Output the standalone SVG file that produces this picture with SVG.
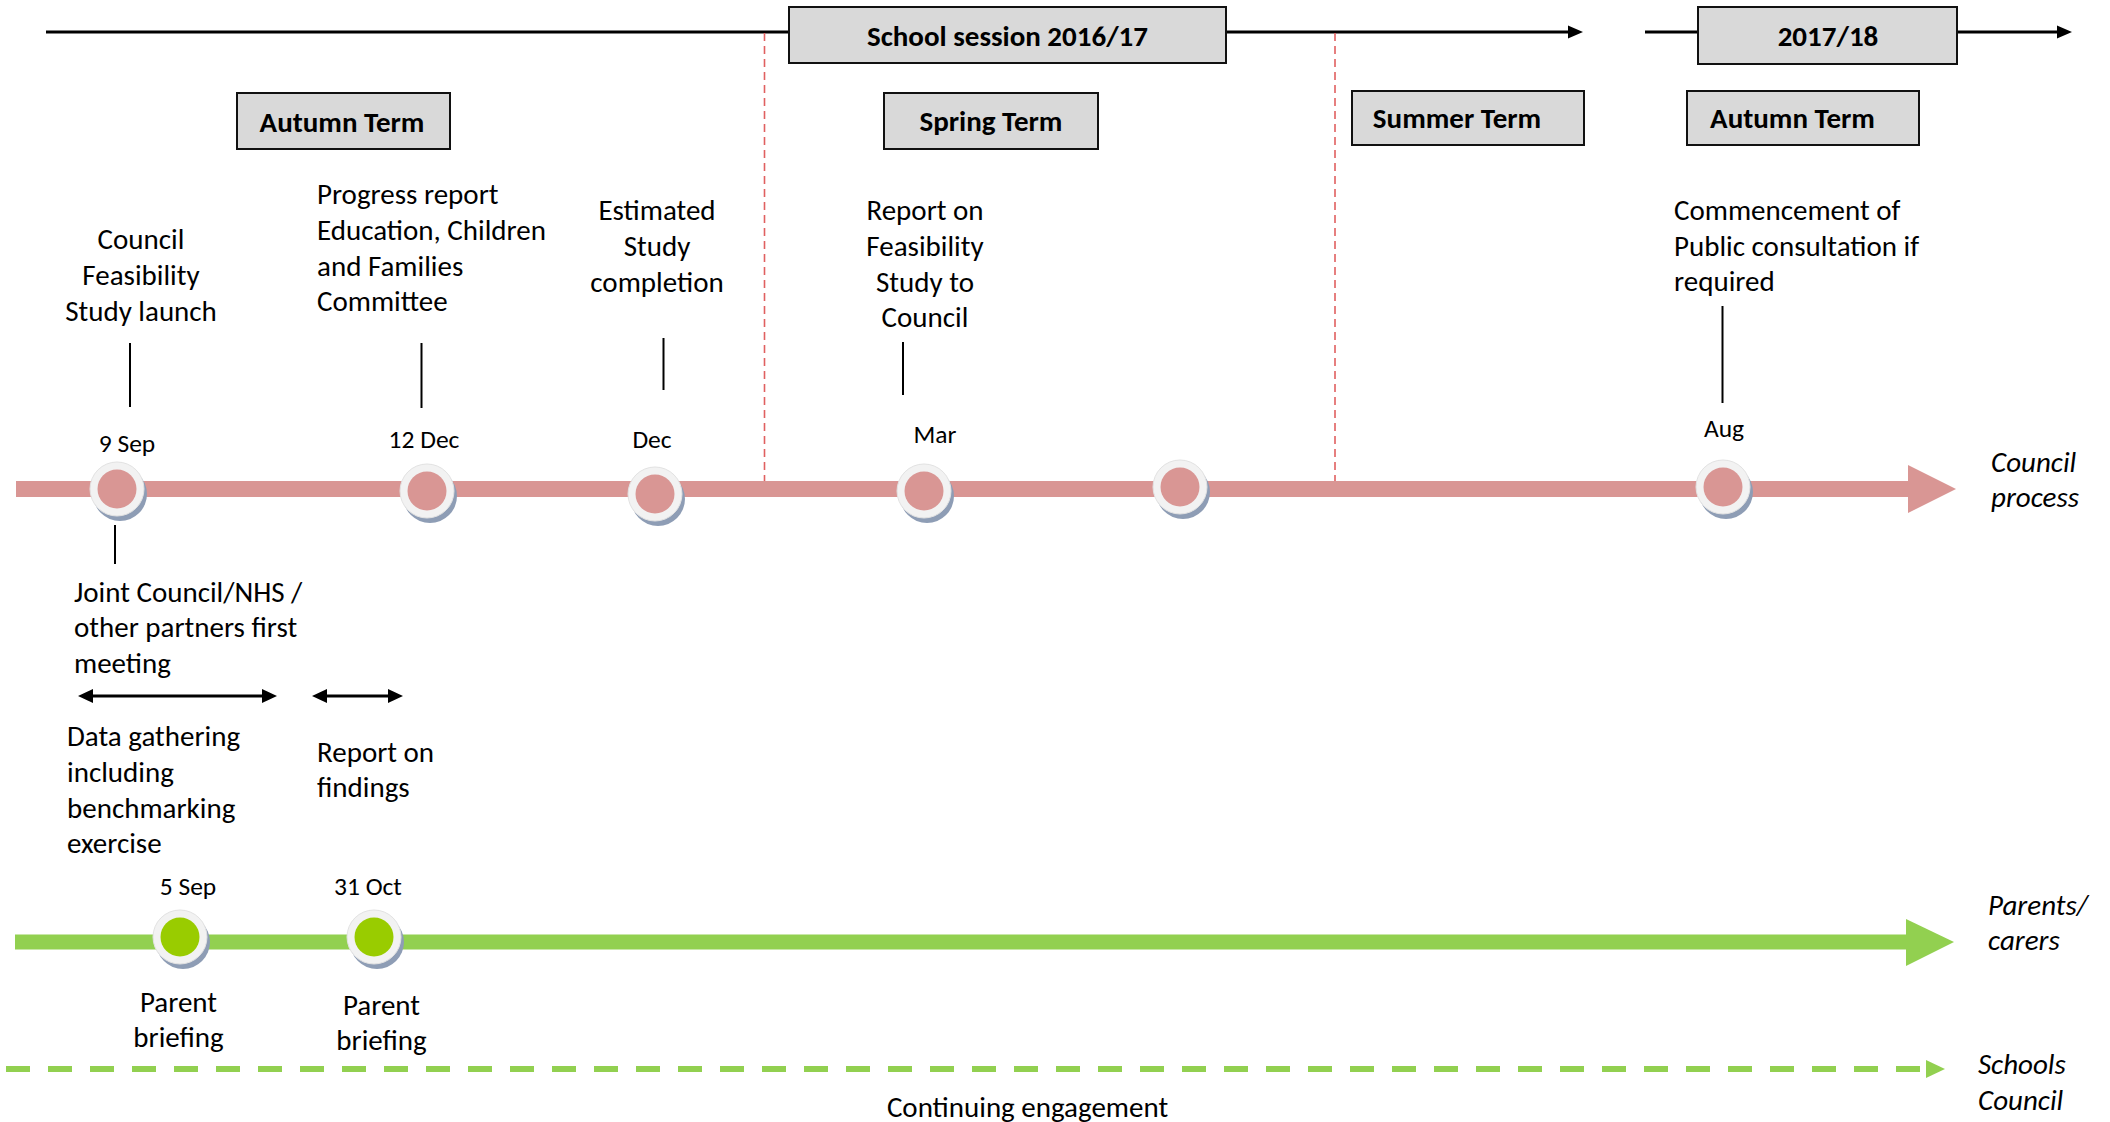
<svg xmlns="http://www.w3.org/2000/svg" width="2110" height="1122" viewBox="0 0 2110 1122">
<defs>
<style>
text{font-family:Carlito,Lato,"Open Sans",sans-serif;fill:#000}
.t{font-size:29px}
.c{text-anchor:middle}
.d{font-size:25.5px;text-anchor:middle}
.b{font-size:29px;font-weight:bold;text-anchor:middle}
.i{font-size:29px;font-style:italic}
.box{fill:#d9d9d9;stroke:#111;stroke-width:2}
.blk{stroke:#000;stroke-width:3;fill:none}
.tick{stroke:#000;stroke-width:2}
.rdash{stroke:#e06060;stroke-width:1.6;stroke-dasharray:8 5}
.shadow{fill:#8e9db5}
.ring{fill:#f2f2f2;stroke:#e2e2e2;stroke-width:1}
.pink{fill:#d99694}
.lime{fill:#99cc00}
</style>
<g id="redDot"><circle class="shadow" cx="3" cy="5" r="27"/><circle class="ring" cx="0" cy="0" r="27"/><circle class="pink" cx="0" cy="0" r="19.5"/></g>
<g id="greenDot"><circle class="shadow" cx="3" cy="5" r="27"/><circle class="ring" cx="0" cy="0" r="27"/><circle class="lime" cx="0" cy="0" r="19.5"/></g>
</defs>
<rect width="2110" height="1122" fill="#fff"/>

<g id="connectors">
<!-- top timeline -->
<line class="blk" x1="46" y1="32" x2="789" y2="32"/>
<line class="blk" x1="1226" y1="32" x2="1570" y2="32"/>
<polygon points="1568,25.5 1583,32 1568,38.5" fill="#000"/>
<line class="blk" x1="1645" y1="32" x2="1698" y2="32"/>
<line class="blk" x1="1957" y1="32" x2="2059" y2="32"/>
<polygon points="2057,25.5 2072,32 2057,38.5" fill="#000"/>
<!-- term dividers -->
<line class="rdash" x1="764.5" y1="33" x2="764.5" y2="488"/>
<line class="rdash" x1="1335" y1="33" x2="1335" y2="488"/>
<!-- council process -->
<rect x="16" y="481" width="1893" height="16" fill="#d99694"/>
<polygon points="1908,465 1956,489 1908,513" fill="#d99694"/>
<!-- parents/carers -->
<rect x="15" y="934.5" width="1892" height="15" fill="#92d050"/>
<polygon points="1906,919 1954,942 1906,966" fill="#92d050"/>
<!-- schools council -->
<line x1="6" y1="1069" x2="1922" y2="1069" stroke="#92d050" stroke-width="6" stroke-dasharray="24 18"/>
<polygon points="1926,1060 1945,1069 1926,1078" fill="#92d050"/>
<!-- tick lines -->
<line class="tick" x1="130" y1="343" x2="130" y2="407"/>
<line class="tick" x1="421.5" y1="343" x2="421.5" y2="408"/>
<line class="tick" x1="663.5" y1="338" x2="663.5" y2="390"/>
<line class="tick" x1="903" y1="342" x2="903" y2="395"/>
<line class="tick" x1="1722.5" y1="306" x2="1722.5" y2="403"/>
<line class="tick" x1="115" y1="525" x2="115" y2="564"/>
<!-- duration arrows -->
<line class="blk" x1="90" y1="696" x2="265" y2="696"/>
<polygon points="78,696 93,689 93,703" fill="#000"/>
<polygon points="277,696 262,689 262,703" fill="#000"/>
<line class="blk" x1="324" y1="696" x2="391" y2="696"/>
<polygon points="312,696 327,689 327,703" fill="#000"/>
<polygon points="403,696 388,689 388,703" fill="#000"/>
</g>

<g id="header-session"><rect class="box" x="789" y="7" width="437" height="56"/><text class="b" x="1007.5" y="46">School session 2016/17</text></g>
<g id="header-2017"><rect class="box" x="1698" y="7" width="259" height="57"/><text class="b" x="1828" y="46">2017/18</text></g>
<g id="term-autumn1"><rect class="box" x="237" y="93" width="213" height="56"/><text class="b" x="342" y="132">Autumn Term</text></g>
<g id="term-spring"><rect class="box" x="884" y="93" width="214" height="56"/><text class="b" x="991" y="131">Spring Term</text></g>
<g id="term-summer"><rect class="box" x="1352" y="91" width="232" height="54"/><text class="b" x="1457" y="128">Summer Term</text></g>
<g id="term-autumn2"><rect class="box" x="1687" y="91" width="232" height="54"/><text class="b" x="1792.5" y="128">Autumn Term</text></g>

<g id="ev-9sep">
<use href="#redDot" x="117" y="489"/>
<text class="d" x="127" y="452">9 Sep</text>
<text class="t c" x="141"><tspan x="141" y="249">Council</tspan><tspan x="141" y="285">Feasibility</tspan><tspan x="141" y="321">Study launch</tspan></text>
<text class="t" x="74"><tspan x="74" y="602">Joint Council/NHS /</tspan><tspan x="74" y="637">other partners first</tspan><tspan x="74" y="673">meeting</tspan></text>
</g>
<g id="ev-12dec">
<use href="#redDot" x="427" y="491"/>
<text class="d" x="424" y="448">12 Dec</text>
<text class="t" x="317"><tspan x="317" y="204">Progress report</tspan><tspan x="317" y="240">Education, Children</tspan><tspan x="317" y="276">and Families</tspan><tspan x="317" y="311">Committee</tspan></text>
</g>
<g id="ev-dec">
<use href="#redDot" x="655" y="494"/>
<text class="d" x="652" y="448">Dec</text>
<text class="t c" x="657"><tspan x="657" y="220">Estimated</tspan><tspan x="657" y="256">Study</tspan><tspan x="657" y="292">completion</tspan></text>
</g>
<g id="ev-mar">
<use href="#redDot" x="924" y="491"/>
<text class="d" x="935" y="443">Mar</text>
<text class="t c" x="925"><tspan x="925" y="220">Report on</tspan><tspan x="925" y="256">Feasibility</tspan><tspan x="925" y="292">Study to</tspan><tspan x="925" y="327">Council</tspan></text>
</g>
<g id="ev-5">
<use href="#redDot" x="1180" y="487"/>
</g>
<g id="ev-aug">
<use href="#redDot" x="1723" y="487"/>
<text class="d" x="1724" y="437">Aug</text>
<text class="t" x="1674"><tspan x="1674" y="220">Commencement of</tspan><tspan x="1674" y="256">Public consultation if</tspan><tspan x="1674" y="291">required</tspan></text>
</g>
<g id="span-data">
<text class="t" x="67"><tspan x="67" y="746">Data gathering</tspan><tspan x="67" y="782">including</tspan><tspan x="67" y="818">benchmarking</tspan><tspan x="67" y="853">exercise</tspan></text>
</g>
<g id="span-report">
<text class="t" x="317"><tspan x="317" y="762">Report on</tspan><tspan x="317" y="797">findings</tspan></text>
</g>
<g id="ev-5sep">
<use href="#greenDot" x="180" y="937"/>
<text class="d" x="188" y="895">5 Sep</text>
<text class="t c" x="178.5"><tspan x="178.5" y="1012">Parent</tspan><tspan x="178.5" y="1047">briefing</tspan></text>
</g>
<g id="ev-31oct">
<use href="#greenDot" x="374" y="937"/>
<text class="d" x="368" y="895">31 Oct</text>
<text class="t c" x="381.5"><tspan x="381.5" y="1015">Parent</tspan><tspan x="381.5" y="1050">briefing</tspan></text>
</g>
<g id="label-council"><text class="i" x="1991"><tspan x="1991" y="472">Council</tspan><tspan x="1991" y="507">process</tspan></text></g>
<g id="label-parents"><text class="i" x="1988"><tspan x="1988" y="915">Parents/</tspan><tspan x="1988" y="950">carers</tspan></text></g>
<g id="label-schools"><text class="i" x="1978"><tspan x="1978" y="1074">Schools</tspan><tspan x="1978" y="1110">Council</tspan></text></g>
<g id="label-engagement"><text class="t c" x="1027.5" y="1117">Continuing engagement</text></g>
</svg>
